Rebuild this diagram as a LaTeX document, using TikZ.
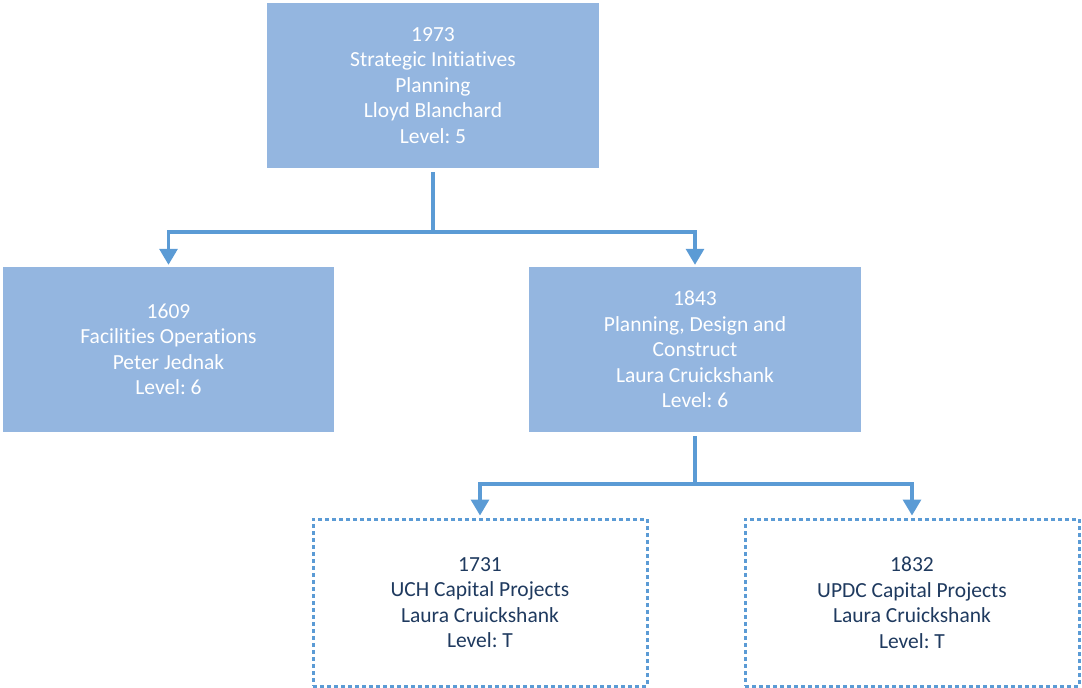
\documentclass[tikz,border=0pt]{standalone}
\usepackage{fontspec}
\setmainfont[Ligatures={NoCommon}]{Carlito}
\usetikzlibrary{arrows.meta}
\definecolor{boxfill}{HTML}{94B6E0}
\definecolor{linec}{HTML}{5B9BD5}
\definecolor{navy}{HTML}{1F3A5F}
\tikzset{
  solidbox/.style={fill=boxfill, draw=none, inner sep=0pt, text=white, align=center,
    font=\fontsize{21.5}{25.5}\selectfont},
  dashbox/.style={fill=white, draw=linec, line width=3pt, dash pattern=on 4pt off 3pt,
    inner sep=0pt, text=navy, align=center, font=\fontsize{21.5}{25.5}\selectfont},
  conn/.style={draw=linec, line width=3.2pt},
  arr/.style={conn, -{Triangle[width=18pt,length=16pt]}}
}
\frenchspacing
\begin{document}
\begin{tikzpicture}[x=1pt,y=-1pt]
\useasboundingbox (0,0) rectangle (1082,688);
\node[solidbox, minimum width=332pt, minimum height=165pt] (top) at (433,85.5)
  {1973\\Strategic Initiatives\\Planning\\Lloyd Blanchard\\Level: 5};
\node[solidbox, minimum width=331pt, minimum height=165pt] (fo) at (168.5,349.5)
  {1609\\Facilities Operations\\Peter Jednak\\Level: 6};
\node[solidbox, minimum width=332pt, minimum height=165pt] (pdc) at (695,349.5)
  {1843\\Planning, Design and\\Construct\\Laura Cruickshank\\Level: 6};
\node[dashbox, minimum width=334pt, minimum height=167pt] (uch) at (480,602.5)
  {1731\\UCH Capital Projects\\Laura Cruickshank\\Level: T};
\node[dashbox, minimum width=334pt, minimum height=167pt] (updc) at (912,602.5)
  {1832\\UPDC Capital Projects\\Laura Cruickshank\\Level: T};
\coordinate (j1) at (433,232);
\coordinate (j2) at (695,484);
\draw[conn, shorten <=4pt] (top.south) -- (j1);
\draw[arr, shorten >=2pt] (j1) -| (fo.north);
\draw[arr, shorten >=2pt] (j1) -| (pdc.north);
\draw[conn, shorten <=4pt] (pdc.south) -- (j2);
\draw[arr, shorten >=2pt] (j2) -| (uch.north);
\draw[arr, shorten >=2pt] (j2) -| (updc.north);
\end{tikzpicture}
\end{document}
